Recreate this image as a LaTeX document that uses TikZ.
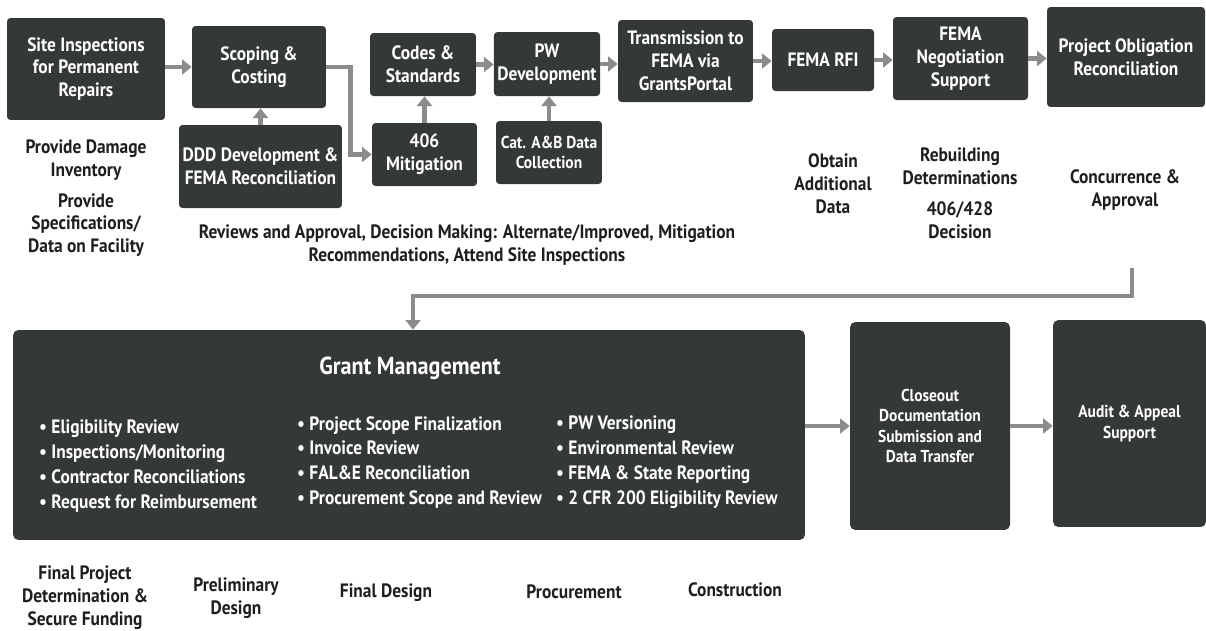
\documentclass[tikz,border=0pt]{standalone}
\usepackage{fontspec}
\setmainfont{PT Sans}[FakeStretch=0.9]
\usepackage{tikz}
\usetikzlibrary{arrows.meta, positioning, calc}
\definecolor{boxgray}{RGB}{52,57,55}
\definecolor{arrowgray}{RGB}{140,140,138}
\definecolor{labelink}{RGB}{30,30,30}

\begin{document}
\begin{tikzpicture}[x=0.02cm, y=-0.02cm,
        block/.style={rectangle, fill=boxgray, text=white, align=center, rounded corners=2pt,
            font=\bfseries\fontsize{11}{13}\selectfont, inner sep=2pt},
        smallblock/.style={block, font=\bfseries\fontsize{9.8}{11.5}\selectfont},
        note/.style={align=center, text=labelink, font=\bfseries\fontsize{11}{13}\selectfont},
        bullets/.style={align=left, anchor=north west, text=white, font=\bfseries\fontsize{11}{14.2}\selectfont},
        line/.style={draw=arrowgray, line width=2.6pt, -{Triangle[width=8.5pt,length=5.5pt]}}]

        \useasboundingbox (0,0) rectangle (1206,630);

        % Top row
        \node [block, minimum width=3.16cm, minimum height=2.04cm] (site) at (86,69) {Site Inspections\\for Permanent\\Repairs};
        \node [block, minimum width=2.68cm, minimum height=1.64cm] (scope) at (259,67) {Scoping \&\\Costing};
        \node [block, minimum width=3.26cm, minimum height=1.66cm] (ddd) at (260.5,166.5) {DDD Development \&\\FEMA Reconciliation};
        \node [block, minimum width=2.12cm, minimum height=1.26cm] (codes) at (423,64.5) {Codes \&\\Standards};
        \node [block, minimum width=2.10cm, minimum height=1.26cm] (mitig) at (424.5,154.5) {406\\Mitigation};
        \node [block, minimum width=2.12cm, minimum height=1.28cm] (pwdev) at (547,64) {PW\\Development};
        \node [smallblock, minimum width=2.12cm, minimum height=1.26cm] (catab) at (549,152.5) {Cat. A\&B Data\\Collection};
        \node [block, minimum width=2.70cm, minimum height=1.64cm] (trans) at (685.5,61) {Transmission to\\FEMA via\\GrantsPortal};
        \node [block, minimum width=2.04cm, minimum height=1.24cm] (rfi) at (823,60) {FEMA RFI};
        \node [block, minimum width=2.70cm, minimum height=1.66cm] (negot) at (960.5,58.5) {FEMA\\Negotiation\\Support};
        \node [block, minimum width=3.16cm, minimum height=2.00cm] (oblig) at (1126,57) {Project Obligation\\Reconciliation};

        % Notes under the top row
        \node [note] (damage) at (86,160) {Provide Damage\\Inventory};
        \node [note] (specs) at (86,225) {Provide\\Specifications/\\Data on Facility};
        \node [note] (reviews) at (467,245) {Reviews and Approval, Decision Making: Alternate/Improved, Mitigation\\Recommendations, Attend Site Inspections};
        \node [note] (obtain) at (833,184) {Obtain\\Additional\\Data};
        \node [note] (rebuild) at (960,166) {Rebuilding\\Determinations};
        \node [note] (decision) at (960,220) {406/428\\Decision};
        \node [note] (concur) at (1125,190) {Concurrence \&\\Approval};

        % Bottom row
        \node [block, rounded corners=3pt, minimum width=15.84cm, minimum height=4.2cm] (grant) at (409,435) {};
        \node [text=white, font=\bfseries\fontsize{14}{16}\selectfont] (granttitle) at (410,368) {Grant Management};
        \node [bullets] (col1) at (33,414) {\textbullet\ Eligibility Review\\\textbullet\ Inspections/Monitoring\\\textbullet\ Contractor Reconciliations\\\textbullet\ Request for Reimbursement};
        \node [bullets] (col2) at (291,410) {\textbullet\ Project Scope Finalization\\\textbullet\ Invoice Review\\\textbullet\ FAL\&E Reconciliation\\\textbullet\ Procurement Scope and Review};
        \node [bullets] (col3) at (550,410) {\textbullet\ PW Versioning\\\textbullet\ Environmental Review\\\textbullet\ FEMA \& State Reporting\\\textbullet\ 2 CFR 200 Eligibility Review};
        \node [smallblock, rounded corners=3pt, minimum width=3.2cm, minimum height=4.16cm] (close) at (930,426) {Closeout\\Documentation\\Submission and\\Data Transfer};
        \node [smallblock, rounded corners=3pt, minimum width=3.06cm, minimum height=4.14cm] (audit) at (1129.5,423.5) {Audit \& Appeal\\Support};

        % Phases under the bottom row
        \node [note] (final) at (85,598) {Final Project\\Determination \&\\Secure Funding};
        \node [note] (prelim) at (236,598) {Preliminary\\Design};
        \node [note] (fdesign) at (386,593) {Final Design};
        \node [note] (procure) at (574,592) {Procurement};
        \node [note] (constr) at (735,590) {Construction};

        % Connections
        \path [line] (site.east |- scope.west) -- (scope.west);
        \path [line] (scope.east) -- ++(24,0) |- (mitig.west);
        \path [line] (ddd.north) -- (ddd.north |- scope.south);
        \path [line] (mitig.north) -- (mitig.north |- codes.south);
        \path [line] (codes.east) -- (codes.east -| pwdev.west);
        \path [line] (catab.north) -- (catab.north |- pwdev.south);
        \path [line] (pwdev.east) -- (pwdev.east -| trans.west);
        \path [line] (trans.east) -- (trans.east -| rfi.west);
        \path [line] (rfi.east) -- (rfi.east -| negot.west);
        \path [line] (negot.east) -- (negot.east -| oblig.west);
        \coordinate (handoff) at (1132,268);
        \coordinate (bend) at (413,296);
        \path [line] (handoff) |- (bend) -- (bend |- grant.north);
        \path [line] (grant.east |- close.west) -- (close.west);
        \path [line] (close.east) -- (close.east -| audit.west);

    \end{tikzpicture}
\end{document}
